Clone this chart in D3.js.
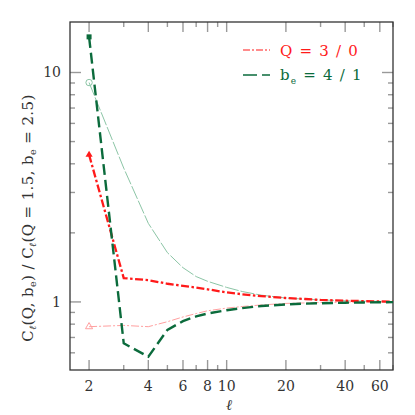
<!DOCTYPE html>
<html><head><meta charset="utf-8">
<script src="https://cdn.jsdelivr.net/npm/d3@7"></script>
<style>body{margin:0;background:#fff}svg{display:block}</style>
</head><body><svg id="c" width="415" height="415"></svg>
<script>
const ells = [2,3,4,5,6,7,8,10,12,15,20,25,30,40,50,60,70];
const q3  = [4.38,1.27,1.245,1.20,1.175,1.155,1.135,1.10,1.08,1.06,1.04,1.03,1.02,1.012,1.008,1.005,1.003];
const q0  = [0.78,0.79,0.78,0.82,0.86,0.89,0.915,0.94,0.955,0.97,0.985,0.99,0.994,0.997,0.998,0.999,1.0];
const b4  = [14.3,0.66,0.577,0.755,0.825,0.865,0.89,0.92,0.94,0.96,0.975,0.983,0.987,0.992,0.995,0.997,0.998];
const b1  = [9.04,3.83,2.2,1.64,1.41,1.29,1.23,1.157,1.11,1.07,1.04,1.028,1.02,1.012,1.008,1.005,1.004];
const xMajor = [2,4,6,8,10,20,40,60];
const xMinor = [3,5,7,9,30,50,70];
const yMajor = [1,10];
const yMinor = [0.6,0.7,0.8,0.9,2,3,4,5,6,7,8,9];

const FONT = "'DejaVu Serif', 'Liberation Serif', serif";
const svg = d3.select("#c").attr("font-family",FONT);
const L=70,R=393,T=22,B=370;
const x = d3.scaleLog().domain([1.6,70]).range([L,R]);
const y = d3.scaleLog().domain([0.505,16.6]).range([B,T]);

const tickCol="#999";
function xt(v,len){
  svg.append("line").attr("x1",x(v)).attr("x2",x(v)).attr("y1",B).attr("y2",B-len).attr("stroke",tickCol).attr("stroke-width",1.4);
  svg.append("line").attr("x1",x(v)).attr("x2",x(v)).attr("y1",T).attr("y2",T+len).attr("stroke",tickCol).attr("stroke-width",1.4);
}
function yt(v,len){
  svg.append("line").attr("y1",y(v)).attr("y2",y(v)).attr("x1",L).attr("x2",L+len).attr("stroke",tickCol).attr("stroke-width",1.4);
  svg.append("line").attr("y1",y(v)).attr("y2",y(v)).attr("x1",R).attr("x2",R-len).attr("stroke",tickCol).attr("stroke-width",1.4);
}
xMajor.forEach(v=>xt(v,10)); xMinor.forEach(v=>xt(v,5));
yMajor.forEach(v=>yt(v,11)); yMinor.forEach(v=>yt(v,5));

svg.append("rect").attr("x",L).attr("y",T).attr("width",R-L).attr("height",B-T)
  .attr("fill","none").attr("stroke","#333").attr("stroke-width",1.3);

svg.selectAll(".xl").data(xMajor).enter().append("text")
  .attr("x",d=>x(d)).attr("y",391).attr("text-anchor","middle")
  .attr("font-size",14).attr("fill","#333").text(d=>d);
svg.selectAll(".yl").data(yMajor).enter().append("text")
  .attr("x",61).attr("y",d=>y(d)+5).attr("text-anchor","end")
  .attr("font-size",14).attr("fill","#333").text(d=>d);

svg.append("text").attr("x",229).attr("y",410).attr("text-anchor","middle")
  .attr("font-size",15).attr("font-style","italic").attr("fill","#333").text("ℓ");
const yt_ = svg.append("text").attr("transform","translate(33,218) rotate(-90)")
  .attr("text-anchor","middle").attr("font-size",15).attr("letter-spacing",0.4).attr("fill","#333");
yt_.append("tspan").text("C");
yt_.append("tspan").attr("font-size",9.5).attr("font-style","italic").attr("dy",3).text("ℓ");
yt_.append("tspan").attr("dy",-3).text("(Q,  b");
yt_.append("tspan").attr("font-size",9.5).attr("dy",3).text("e");
yt_.append("tspan").attr("dy",-3).text(")  /  C");
yt_.append("tspan").attr("font-size",9.5).attr("font-style","italic").attr("dy",3).text("ℓ");
yt_.append("tspan").attr("dy",-3).text("(Q = 1.5,  b");
yt_.append("tspan").attr("font-size",9.5).attr("dy",3).text("e");
yt_.append("tspan").attr("dy",-3).text(" = 2.5)");

const line = d3.line().x(d=>x(d[0])).y(d=>y(d[1]));
function series(vals,col,w,dash){
  svg.append("path").datum(ells.map((l,i)=>[l,vals[i]]))
    .attr("d",line).attr("fill","none").attr("stroke",col).attr("stroke-width",w)
    .attr("stroke-dasharray",dash);
}
const cQ3="#ff1a1a", cQ0="#ffa0a0", cB4="#0b6b3c", cB1="#8cc5a6";
series(b1,cB1,1.0,"14,2");
series(q0,cQ0,1.0,"8,2,2,2");
series(q3,cQ3,2.3,"8,2.5,2.5,2.5");
series(b4,cB4,2.4,"11,5");

svg.append("rect").attr("x",x(ells[0])-2.5).attr("y",y(b4[0])-2.5).attr("width",5).attr("height",5).attr("fill",cB4);
svg.append("circle").attr("cx",x(ells[0])).attr("cy",y(b1[0])).attr("r",3.2).attr("fill","none").attr("stroke",cB1).attr("stroke-width",1);
const tri = d3.symbol().type(d3.symbolTriangle).size(22);
svg.append("path").attr("d",tri).attr("transform",`translate(${x(ells[0])},${y(q3[0])})`).attr("fill",cQ3);
svg.append("path").attr("d",tri).attr("transform",`translate(${x(ells[0])},${y(q0[0])})`).attr("fill","none").attr("stroke",cQ0).attr("stroke-width",1);

svg.append("line").attr("x1",243).attr("x2",270).attr("y1",50).attr("y2",50).attr("stroke",cQ3).attr("stroke-width",1.2).attr("stroke-dasharray","7,2,2,2");
svg.append("text").attr("x",280).attr("y",56).attr("font-size",15).attr("letter-spacing",1.2).attr("fill",cQ3).text("Q = 3 / 0");
svg.append("line").attr("x1",243).attr("x2",270).attr("y1",75).attr("y2",75).attr("stroke",cB4).attr("stroke-width",1.3).attr("stroke-dasharray","14,5");
const lt = svg.append("text").attr("x",280).attr("y",80).attr("font-size",15).attr("letter-spacing",1.2).attr("fill",cB4);
lt.append("tspan").text("b");
lt.append("tspan").attr("font-size",9).attr("dy",4).text("e");
lt.append("tspan").attr("dy",-4).text(" = 4 / 1");
</script></body></html>
